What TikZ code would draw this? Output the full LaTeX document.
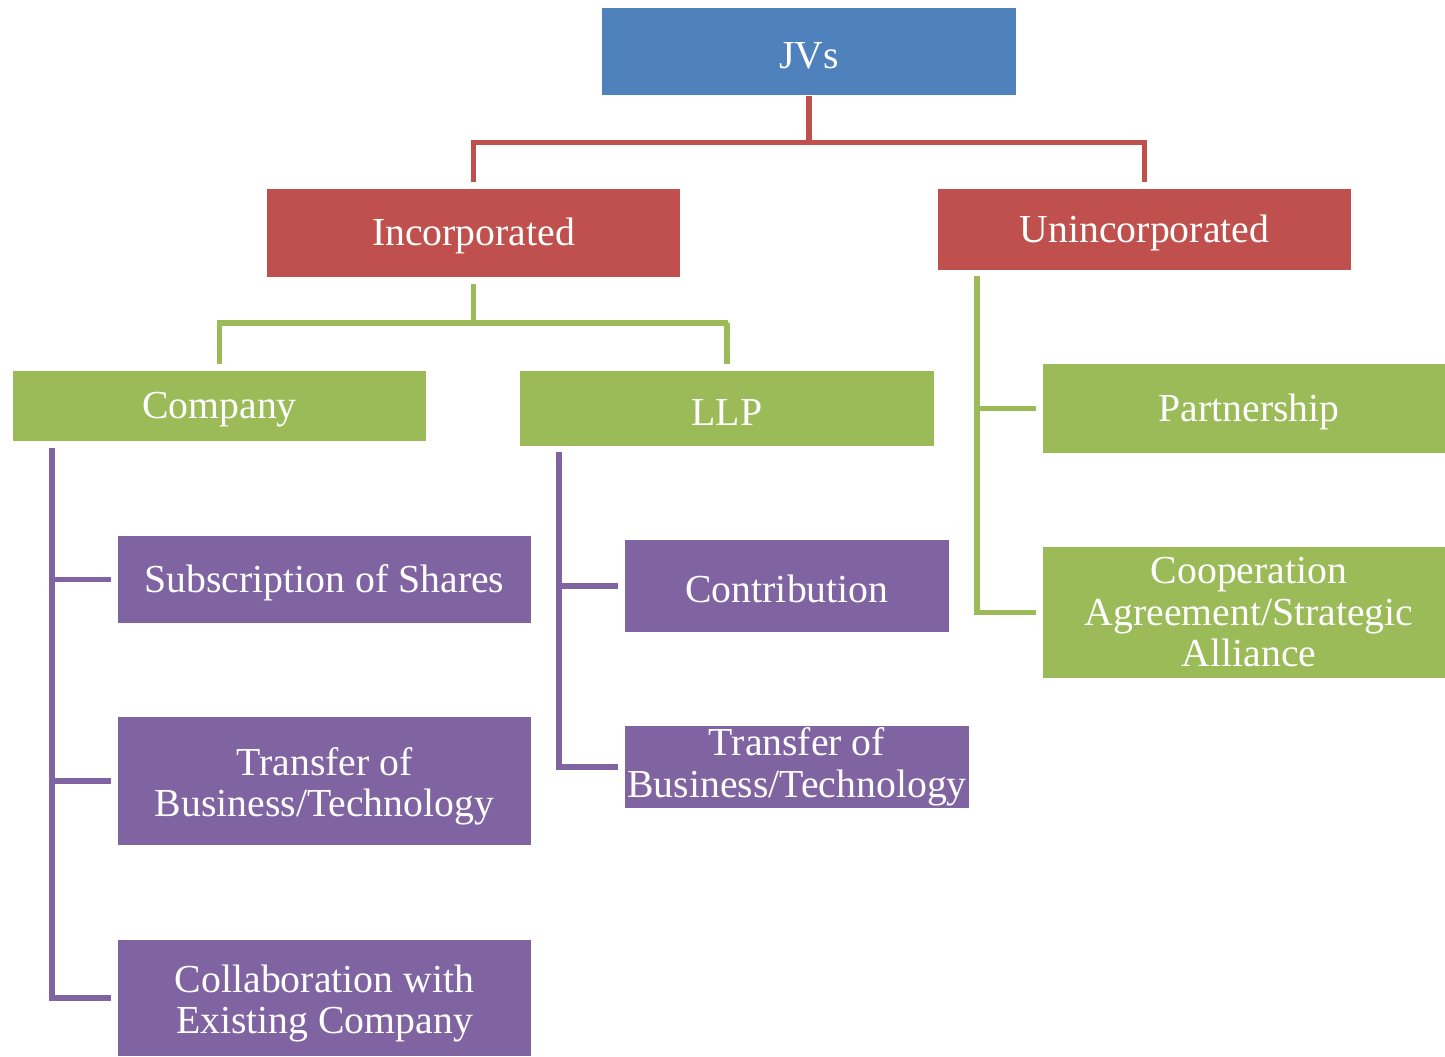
\documentclass[tikz,border=0pt]{standalone}
\usepackage{fontspec}
\setmainfont{Liberation Serif}
\usepackage{tikz}

\definecolor{jvblue}{HTML}{4F81BD}
\definecolor{jvred}{HTML}{C0504D}
\definecolor{jvgreen}{HTML}{9BBB59}
\definecolor{jvpurple}{HTML}{8064A2}
\newcommand{\jvstrut}{\rule{0pt}{9.6pt}}
\newcommand{\jvtall}{\rule{0pt}{11pt}}

\begin{document}
\begin{tikzpicture}[x=0.01cm,y=-0.01cm]
\tikzstyle{every node}=[draw=none, text=white, align=center, inner sep=0pt,
  font=\fontsize{11.3}{11.8}\selectfont, execute at begin node=\jvstrut]
\tikzstyle{link}=[line width=1.5pt]
\useasboundingbox (0,0) rectangle (1445,1056);
% boxes
\node at (809,51.5) [fill=jvblue, minimum width=4.14cm, minimum height=0.87cm] (jvs) {JVs};
\node at (473.5,233) [fill=jvred, minimum width=4.13cm, minimum height=0.88cm] (inc) {Incorporated};
\node at (1144.5,229.5) [fill=jvred, minimum width=4.13cm, minimum height=0.81cm] (uninc) {Unincorporated};
\node at (219.5,406) [fill=jvgreen, minimum width=4.13cm, minimum height=0.70cm] (company) {Company};
\node at (727,408.5) [fill=jvgreen, minimum width=4.14cm, minimum height=0.75cm] (llp) {LLP};
\node at (1249,408.5) [fill=jvgreen, minimum width=4.12cm, minimum height=0.89cm] (partner) {Partnership};
\node at (1249,612.5) [fill=jvgreen, minimum width=4.12cm, minimum height=1.31cm] (coop) {Cooperation\\Agreement/Strategic\\Alliance};
\node at (324.5,579.5) [fill=jvpurple, minimum width=4.13cm, minimum height=0.87cm] (shares) {Subscription of Shares};
\node at (324.5,781) [fill=jvpurple, minimum width=4.13cm, minimum height=1.28cm] (transc) {\jvtall Transfer of\\Business/Technology};
\node at (324.5,998) [fill=jvpurple, minimum width=4.13cm, minimum height=1.16cm] (collab) {\jvtall Collaboration with\\Existing Company};
\node at (787,586) [fill=jvpurple, minimum width=3.24cm, minimum height=0.91cm] (contrib) {Contribution};
\node at (797,767) [fill=jvpurple, minimum width=3.44cm, minimum height=0.82cm] (transl) {Transfer of\\Business/Technology};
% spine tops
\coordinate (cspine) at (52,448);
\coordinate (lspine) at (559,452);
\coordinate (uspine) at (977,276);
% connectors
\draw[link, jvred]
(jvs.south) -- ++(0,47) -| ([yshift=0.06cm]inc.north)
(jvs.south) -- ++(0,47) -| ([yshift=0.06cm]uninc.north);
\draw[link, jvgreen]
([yshift=-0.06cm]inc.south) |- (728,323) -| ([yshift=0.06cm]company.north)
([yshift=-0.06cm]inc.south) |- (728,323) -| ([yshift=0.06cm]llp.north)
(uspine) |- ([xshift=-0.06cm]partner.west)
(uspine) |- ([xshift=-0.06cm]coop.west);
\draw[link, jvpurple]
(cspine) |- ([xshift=-0.06cm]shares.west)
(cspine) |- ([xshift=-0.06cm]transc.west)
(cspine) |- ([xshift=-0.06cm]collab.west)
(lspine) |- ([xshift=-0.06cm]contrib.west)
(lspine) |- ([xshift=-0.06cm]transl.west);
\end{tikzpicture}
\end{document}
